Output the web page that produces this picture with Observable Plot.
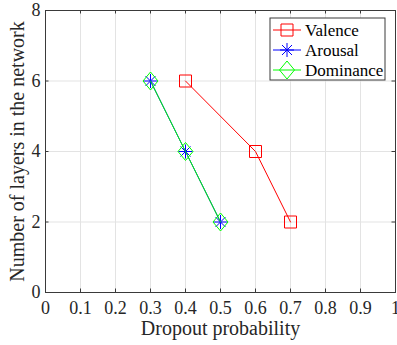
<!DOCTYPE html>
<html>
<head>
<meta charset="utf-8">
<script src="https://cdn.jsdelivr.net/npm/d3@7"></script>
<script src="https://cdn.jsdelivr.net/npm/@observablehq/plot@0.6"></script>
<style>
  html, body { margin: 0; padding: 0; background: #fff; }
  svg, svg text { font-family: "Liberation Serif", "Times New Roman", serif !important; }
</style>
</head>
<body>
<div id="chart"></div>
<script>
// ---- data ----
const seriesNames = ["Valence", "Arousal", "Dominance"];
const seriesColors = ["#ff0000", "#0000ff", "#00ff00"];
const valenceX = [0.4, 0.6, 0.7];
const valenceY = [6, 4, 2];
const arousalX = [0.3, 0.4, 0.5];
const arousalY = [6, 4, 2];
const dominanceX = [0.3, 0.4, 0.5];
const dominanceY = [6, 4, 2];
const xTicks = [0, 0.1, 0.2, 0.3, 0.4, 0.5, 0.6, 0.7, 0.8, 0.9, 1];
const yTicks = [0, 2, 4, 6, 8];
const xLabel = "Dropout probability";
const yLabel = "Number of layers in the network";

// ---- layout ----
const W = 397, H = 345;
const mL = 45, mR = 2, mT = 10, mB = 53;
const pw = W - mL - mR, ph = H - mT - mB;
const tick = 3.5;

// ---- marker shapes ----
function squarePath(c) { const s = 6; c.moveTo(-s, -s); c.lineTo(s, -s); c.lineTo(s, s); c.lineTo(-s, s); c.closePath(); }
function diamondPath(c) { const a = 7.5, b = 9; c.moveTo(0, -b); c.lineTo(a, 0); c.lineTo(0, b); c.lineTo(-a, 0); c.closePath(); }
function asteriskPath(c) {
  const r = 7, d = 5;
  c.moveTo(0, -r); c.lineTo(0, r); c.moveTo(-r, 0); c.lineTo(r, 0);
  c.moveTo(-d, -d); c.lineTo(d, d); c.moveTo(-d, d); c.lineTo(d, -d);
}
const symSquare = {draw: (c) => squarePath(c)};
const symDiamond = {draw: (c) => diamondPath(c)};
const symAsterisk = {draw: (c) => asteriskPath(c)};
const symbols = [symSquare, symAsterisk, symDiamond];

const series = [
  valenceX.map((x, i) => ({x, y: valenceY[i]})),
  arousalX.map((x, i) => ({x, y: arousalY[i]})),
  dominanceX.map((x, i) => ({x, y: dominanceY[i]}))
];

const frameColor = "#3a3a3a";
const gridColor = "#e3e3e3";

const marks = [
  Plot.ruleX(xTicks, {x: d => d, stroke: gridColor}),
  Plot.ruleY(yTicks, {y: d => d, stroke: gridColor}),
  Plot.axisX(xTicks, {tickSize: 0, tickPadding: 9, fontSize: 18, fill: "#262626", label: null, tickFormat: d => String(d)}),
  Plot.axisY(yTicks, {tickSize: 0, tickPadding: 5, fontSize: 18, fill: "#262626", label: null}),
];
// markers first, then lines on top (line passes through the hollow markers)
series.forEach((data, i) => {
  marks.push(Plot.dot(data, {x: "x", y: "y", symbol: symbols[i], r: 5, stroke: seriesColors[i], fill: "#ffffff", fillOpacity: 0, strokeWidth: 1}));
});
series.forEach((data, i) => {
  marks.push(Plot.line(data, {x: "x", y: "y", stroke: seriesColors[i], strokeWidth: 1}));
});
marks.push(
  Plot.ruleX(xTicks, {x: d => d, stroke: frameColor, insetTop: ph - tick}),
  Plot.ruleX(xTicks, {x: d => d, stroke: frameColor, insetBottom: ph - tick}),
  Plot.ruleY(yTicks, {y: d => d, stroke: frameColor, insetRight: pw - tick}),
  Plot.ruleY(yTicks, {y: d => d, stroke: frameColor, insetLeft: pw - tick}),
  Plot.frame({stroke: frameColor}),
  Plot.text([xLabel], {frameAnchor: "bottom", dy: 42, fontSize: 20, fill: "#262626", text: d => d}),
  Plot.text([yLabel], {frameAnchor: "left", dx: -28, rotate: -90, textAnchor: "middle", fontSize: 20, fill: "#262626", text: d => d})
);

const plot = Plot.plot({
  width: W, height: H,
  marginLeft: mL, marginRight: mR, marginTop: mT, marginBottom: mB,
  x: {domain: [0, 1]},
  y: {domain: [0, 8]},
  style: {fontFamily: "Liberation Serif, serif", overflow: "visible", background: "#fff"},
  marks
});
document.getElementById("chart").appendChild(plot);

// ---- legend (inside plot, top-right) ----
const svg = d3.select(plot);
const lg = svg.append("g").attr("transform", "translate(270,18)").attr("text-anchor", "start");
lg.append("rect").attr("x", 0).attr("y", 0).attr("width", 115).attr("height", 62)
  .attr("fill", "#fff").attr("stroke", frameColor).attr("stroke-width", 1);
const pathFns = [squarePath, asteriskPath, diamondPath];
seriesNames.forEach((name, i) => {
  const cy = 12 + i * 20;
  lg.append("line").attr("x1", 3).attr("x2", 31).attr("y1", cy).attr("y2", cy)
    .attr("stroke", seriesColors[i]).attr("stroke-width", 1);
  const p = d3.path(); pathFns[i](p);
  lg.append("path").attr("d", p.toString()).attr("transform", `translate(17,${cy})`)
    .attr("fill", "none").attr("stroke", seriesColors[i]).attr("stroke-width", 1);
  lg.append("text").attr("x", 35).attr("y", cy).attr("dy", "0.35em")
    .attr("font-size", 17).attr("fill", "#000").attr("text-anchor", "start").text(name);
});
</script>
</body>
</html>
